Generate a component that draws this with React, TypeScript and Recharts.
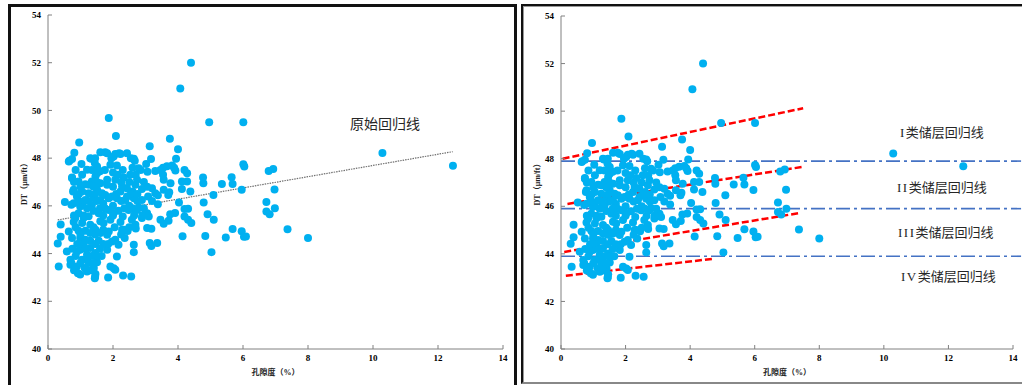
import React from 'react';
import { ScatterChart, Scatter, XAxis, YAxis, ReferenceLine, Label } from 'recharts';

// porosity (%) and DT (μm/ft), same samples in both panels
const porosity = [
  4.4, 4.07, 1.87, 4.96, 6.01, 2.09, 0.96, 3.75, 3.13, 4.0, 10.29, 12.46, 3.94, 3.17, 3.02, 3.06,
  6.01, 6.04, 6.79, 6.93, 6.97, 6.98, 6.72, 6.72, 6.82, 7.37, 8.0, 5.96, 5.65, 5.68, 5.35, 5.09,
  4.77, 4.78, 4.79, 4.91, 5.1, 5.68, 5.96, 6.03, 6.09, 5.47, 4.84, 5.03, 4.14, 4.38, 4.28, 4.12,
  4.28, 4.2, 4.12, 4.03, 4.2, 4.31, 4.2, 4.31, 4.41, 3.91, 3.76, 3.71, 3.77, 3.73, 3.7, 3.88,
  3.92, 3.82, 3.66, 3.54, 3.46, 3.54, 3.56, 3.3, 3.56, 3.3, 3.2, 3.38, 3.38, 3.08, 3.46, 3.56,
  3.05, 3.1, 3.05, 3.18, 3.36, 3.13, 3.18, 2.64, 2.64, 2.31, 2.56, 1.85, 2.02, 1.92, 2.12, 1.45,
  0.99, 0.92, 0.33, 0.3, 0.39, 0.39, 0.52, 0.66, 0.74, 0.81,
  1.03, 1.33, 1.61, 1.76, 2.07, 2.23, 2.43, 2.64, 1.2, 1.51, 1.92, 2.12, 1.46, 0.74, 0.94, 1.15,
  1.35, 1.61, 1.82, 2.07, 2.33, 2.53, 2.79, 0.79, 1.05, 1.25, 1.51, 1.76, 1.97, 2.23, 2.43, 2.69,
  2.89, 0.79, 1.05, 1.35, 1.61, 1.87, 2.12, 2.38, 2.64, 2.89, 0.94, 1.25, 1.56, 1.87, 2.17, 2.48,
  2.79, 0.79, 1.05, 1.3, 1.61, 1.92, 2.23, 2.58, 2.89, 0.64, 0.94, 1.15, 1.46, 1.87, 2.33, 2.69,
  0.74, 0.99, 1.3, 1.56, 1.97, 2.17, 0.58, 0.89, 1.2, 1.46, 1.82, 0.69, 1.05, 1.25, 1.51, 0.69,
  0.89, 1.13, 1.41, 2.07, 1.2, 1.46, 1.44,
  0.64, 0.74, 0.77, 0.89, 0.72, 0.99, 0.84, 1.3, 1.44, 1.51, 1.25, 1.82, 2.02, 2.19, 2.67, 2.74,
  1.82, 1.66, 2.28, 2.43, 2.74, 2.28, 2.02, 1.71, 1.61, 1.82, 2.07, 1.3, 1.15, 1.3, 1.51, 1.2,
  0.99, 0.72, 2.36,
  1.4, 1.7, 2.0, 2.3, 1.4, 1.1, 1.7, 2.5, 2.6, 1.15, 1.6, 2.0, 2.7, 2.45, 2.6,
  1.45, 1.95, 2.55, 0.85, 1.35, 1.75, 2.3, 2.85, 1.05, 2.15, 2.7, 0.8, 1.5, 2.25, 2.5, 2.95,
  1.0, 1.4, 2.0, 3.05, 0.95, 1.45, 2.1, 2.55, 2.75, 0.95, 1.25, 1.5, 2.25, 2.75, 3.2, 1.2,
  1.6, 1.75, 2.35, 2.6, 2.95, 0.8, 1.1, 1.7, 2.0, 2.65, 2.9, 0.85, 1.4, 2.05, 2.5, 1.0,
  1.45, 2.25, 0.9, 1.1, 1.45, 1.7, 1.85, 0.75, 1.15, 1.6, 0.85, 1.35, 1.65, 1.0, 1.4, 0.8,
  1.3,
];
const dtValues = [
  52.0, 50.92, 49.68, 49.5, 49.5, 48.93, 48.66, 48.81, 48.5, 48.37, 48.22, 47.68, 47.97, 47.96, 47.75, 47.43,
  47.74, 47.65, 47.46, 47.55, 46.69, 45.9, 46.16, 45.76, 45.65, 45.02, 44.65, 46.68, 47.2, 46.92, 46.92, 46.46,
  47.19, 46.95, 46.14, 45.65, 45.42, 45.03, 44.94, 44.7, 44.72, 44.67, 44.74, 44.06, 44.73, 46.6, 47.02, 47.02,
  47.37, 47.5, 46.71, 46.14, 45.87, 45.88, 45.55, 45.42, 45.28, 45.7, 45.65, 45.38, 46.95, 46.57, 46.46, 47.6,
  47.48, 47.69, 47.66, 47.6, 47.5, 47.3, 47.09, 47.46, 46.67, 46.53, 46.74, 46.44, 46.07, 46.39, 45.42, 45.25,
  45.69, 45.55, 45.07, 45.04, 44.44, 44.44, 44.32, 44.37, 44.06, 43.08, 43.04, 43.0, 43.38, 43.46, 43.88, 43.03,
  43.12, 43.18, 43.46, 44.42, 44.7, 45.22, 46.16, 47.89, 47.96, 48.23,
  47.75, 47.97, 48.25, 48.25, 48.17, 48.17, 48.21, 47.97, 47.51, 47.65, 47.72, 47.69, 47.23, 47.19, 47.02, 46.91,
  47.02, 46.95, 46.88, 47.09, 47.19, 47.3, 47.58, 46.67, 46.6, 46.53, 46.67, 46.46, 46.39, 46.6, 46.74, 46.88,
  46.71, 46.11, 46.04, 46.04, 46.25, 46.32, 46.32, 46.25, 46.32, 46.25, 45.69, 45.56, 45.69, 45.83, 45.79, 45.83,
  45.93, 45.32, 45.28, 45.21, 45.35, 45.42, 45.32, 45.42, 45.49, 44.93, 44.96, 44.96, 45.0, 44.93, 45.0, 45.21,
  44.65, 44.65, 44.54, 44.54, 44.51, 44.37, 44.09, 44.09, 43.95, 44.02, 44.16, 43.74, 43.74, 43.6, 43.64, 43.53,
  43.46, 43.39, 43.39, 43.32, 43.25, 43.14, 42.97,
  47.86, 47.16, 46.6, 46.39, 46.05, 45.97, 45.49, 48.0, 47.8, 47.37, 46.88, 48.2, 48.07, 48.21, 47.89, 47.09,
  47.09, 46.53, 46.81, 46.39, 45.83, 45.0, 45.7, 45.28, 44.86, 44.79, 44.58, 44.86, 44.58, 44.23, 43.88, 43.74,
  44.16, 43.6, 44.65,
  46.35, 46.1, 46.0, 45.55, 45.8, 45.5, 45.0, 46.0, 47.6, 46.25, 47.45, 47.4, 45.05, 44.95, 46.6,
  48.0, 48.0, 48.0, 47.5, 47.5, 47.5, 47.5, 47.5, 47.3, 47.3, 47.3, 47.0, 47.0, 47.0, 47.0, 47.0,
  46.8, 46.8, 46.8, 46.8, 46.5, 46.5, 46.5, 46.5, 46.5, 46.2, 46.2, 46.2, 46.2, 46.2, 46.2, 45.9,
  45.9, 45.9, 45.9, 45.9, 45.9, 45.6, 45.6, 45.6, 45.6, 45.6, 45.6, 45.1, 45.1, 45.1, 45.1, 44.8,
  44.8, 44.8, 44.4, 44.4, 44.4, 44.4, 44.4, 44.2, 44.2, 44.2, 43.9, 43.9, 43.9, 43.6, 43.6, 43.3,
  43.3,
];

const xTicks = [0, 2, 4, 6, 8, 10, 12, 14];
const yTicks = [40, 42, 44, 46, 48, 50, 52, 54];

// original single regression (dotted)
const rawFitX = [0.3, 12.45];
const rawFitY = [45.41, 48.27];

// per reservoir class regressions (red dashed) and class boundaries (blue dash-dot)
const classLabels = ['I', 'II', 'III', 'IV'];
const classFitX = [[0.05, 7.5], [0.2, 7.5], [0.1, 7.4], [0.15, 4.7]];
const classFitY = [[48.0, 50.12], [46.1, 47.66], [44.08, 45.72], [43.08, 43.79]];
const boundaryDT = [47.9, 45.9, 43.9];

const points = porosity.map((x, i) => ({ x, y: dtValues[i] }));

const SERIF = '"Liberation Serif", "Times New Roman", serif';
const CJK = '"Liberation Serif", "Noto Sans CJK SC", serif';

const tickStyle = { fontSize: 9, fill: '#000', fontWeight: 'bold', fontFamily: SERIF };

const Dot = (p: any) => <circle cx={p.cx} cy={p.cy} r={4} fill="#00B0F0" />;

function DTChart({ width, top, right, children }: any) {
  return (
    <ScatterChart width={width} height={385} margin={{ top, right, bottom: 6, left: 0 }}>
      <XAxis
        type="number"
        dataKey="x"
        domain={[0, 14]}
        ticks={xTicks}
        interval={0}
        height={30}
        stroke="#808080"
        tickSize={-4}
        tickMargin={10}
        tick={tickStyle}
      >
        <Label
          value="孔隙度（%）"
          position="insideBottom"
          offset={4}
          style={{ fontSize: 8, fill: '#222', fontFamily: CJK, fontWeight: 'bold' }}
        />
      </XAxis>
      <YAxis
        type="number"
        dataKey="y"
        domain={[40, 54]}
        ticks={yTicks}
        interval={0}
        width={48}
        stroke="#808080"
        tickSize={-4}
        tickMargin={11}
        tick={tickStyle}
      >
        <Label
          value="DT（μm/ft）"
          angle={-90}
          position="center"
          style={{ fontSize: 8, fill: '#222', fontFamily: CJK, fontWeight: 'bold' }}
        />
      </YAxis>
      <Scatter data={points} isAnimationActive={false} shape={Dot} />
      {children}
    </ScatterChart>
  );
}

const classLabelPos = [
  { left: 900, top: 126 },
  { left: 897, top: 181 },
  { left: 898, top: 226 },
  { left: 901, top: 270 },
];

export default function App() {
  return (
    <div style={{ position: 'absolute', left: 0, top: 0, width: 1022, height: 385, overflow: 'hidden', background: '#fff' }}>
      <div style={{ position: 'absolute', left: 8, top: 4, width: 509, height: 400, border: '3px solid #111', boxSizing: 'border-box' }} />
      <div
        style={{
          position: 'absolute', left: 521, top: 4, width: 520, height: 380,
          border: '2px solid #111', borderBottomColor: '#888', boxSizing: 'border-box',
          boxShadow: 'inset 1px 1px 0 #999',
        }}
      />

      <div style={{ position: 'absolute', left: 0, top: 0 }}>
        <DTChart width={520} top={15} right={17}>
          <ReferenceLine
            segment={[{ x: rawFitX[0], y: rawFitY[0] }, { x: rawFitX[1], y: rawFitY[1] }]}
            stroke="#707070"
            strokeWidth={1.2}
            strokeDasharray="1.5 1"
          />
        </DTChart>
      </div>

      <div style={{ position: 'absolute', left: 513, top: 0 }}>
        <DTChart width={509} top={16} right={9}>
          {boundaryDT.map((v) => (
            <ReferenceLine
              key={'b' + v}
              segment={[{ x: 0, y: v }, { x: 14.25, y: v }]}
              ifOverflow="visible"
              stroke="#4472C4"
              strokeWidth={1.6}
              strokeDasharray="14 4 3 4"
            />
          ))}
          {classFitX.map((xs, i) => (
            <ReferenceLine
              key={'c' + i}
              segment={[{ x: xs[0], y: classFitY[i][0] }, { x: xs[1], y: classFitY[i][1] }]}
              stroke="#FF0000"
              strokeWidth={2.5}
              strokeDasharray="7 3"
            />
          ))}
        </DTChart>
      </div>

      <div style={{ position: 'absolute', left: 350, top: 118, fontSize: 14, lineHeight: 1, color: '#262626', fontFamily: CJK, whiteSpace: 'nowrap' }}>
        原始回归线
      </div>
      {classLabels.map((r, i) => (
        <div
          key={r}
          style={{
            position: 'absolute', left: classLabelPos[i].left, top: classLabelPos[i].top,
            fontSize: 13, lineHeight: 1, color: '#262626', fontFamily: CJK, whiteSpace: 'nowrap',
          }}
        >
          <span style={{ fontFamily: SERIF, letterSpacing: 1.5 }}>{r}</span>类储层回归线
        </div>
      ))}
    </div>
  );
}
